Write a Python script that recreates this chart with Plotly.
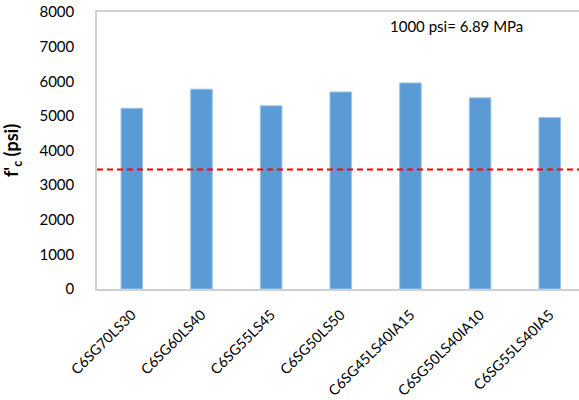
import plotly.graph_objects as go

categories = ["C6SG70LS30", "C6SG60LS40", "C6SG55LS45", "C6SG50LS50",
              "C6SG45LS40IA15", "C6SG50LS40IA10", "C6SG55LS40IA5"]
fc_psi = [5220, 5770, 5290, 5690, 5950, 5520, 4950]
required_fc = 3450
y_ticks = [0, 1000, 2000, 3000, 4000, 5000, 6000, 7000, 8000]
note = "1000 psi= 6.89 MPa"

FONT = "Lato, 'Liberation Sans', sans-serif"

fig = go.Figure()
fig.add_trace(go.Bar(
    x=categories, y=fc_psi, width=0.31,
    marker=dict(color="#5B9BD5", line=dict(color="#9DC3E6", width=1)),
    showlegend=False,
))
fig.add_shape(type="line", xref="paper", x0=0, x1=1, yref="y",
              y0=required_fc, y1=required_fc,
              line=dict(color="#FF0000", width=2, dash="6px,4px"))
fig.add_annotation(text=note, xref="paper", yref="paper", x=0.745, y=0.95,
                   xanchor="center", yanchor="middle",
                   showarrow=False, font=dict(family=FONT, size=15, color="#000"))

fig.update_layout(
    width=579, height=400,
    margin=dict(l=97, r=0, t=12, b=111, autoexpand=False),
    paper_bgcolor="white", plot_bgcolor="white",
    font=dict(family=FONT, color="#000"),
    xaxis=dict(type="category", range=[-0.5, 6.42], showline=True, linecolor="#D0D0D0",
               linewidth=1.5, mirror=True, showgrid=False, tickangle=-45, automargin=False,
               tickfont=dict(family=FONT, size=14.3, color="#000"), ticks="",
               ticklabelstandoff=10),
    yaxis=dict(range=[0, 8000], tickvals=y_ticks, showline=True, linecolor="#D0D0D0",
               linewidth=1.5, mirror=True, showgrid=False, zeroline=False, automargin=False,
               tickfont=dict(family=FONT, size=15, color="#000"), ticks="",
               ticklabelstandoff=18,
               title=dict(text="<b>f'<sub>c</sub> (psi)</b>", standoff=16,
                          font=dict(family=FONT, size=18, color="#000"))),
)
fig.write_html("out.html", config={"displayModeBar": False},
               post_script="document.body.style.margin='0px';")
